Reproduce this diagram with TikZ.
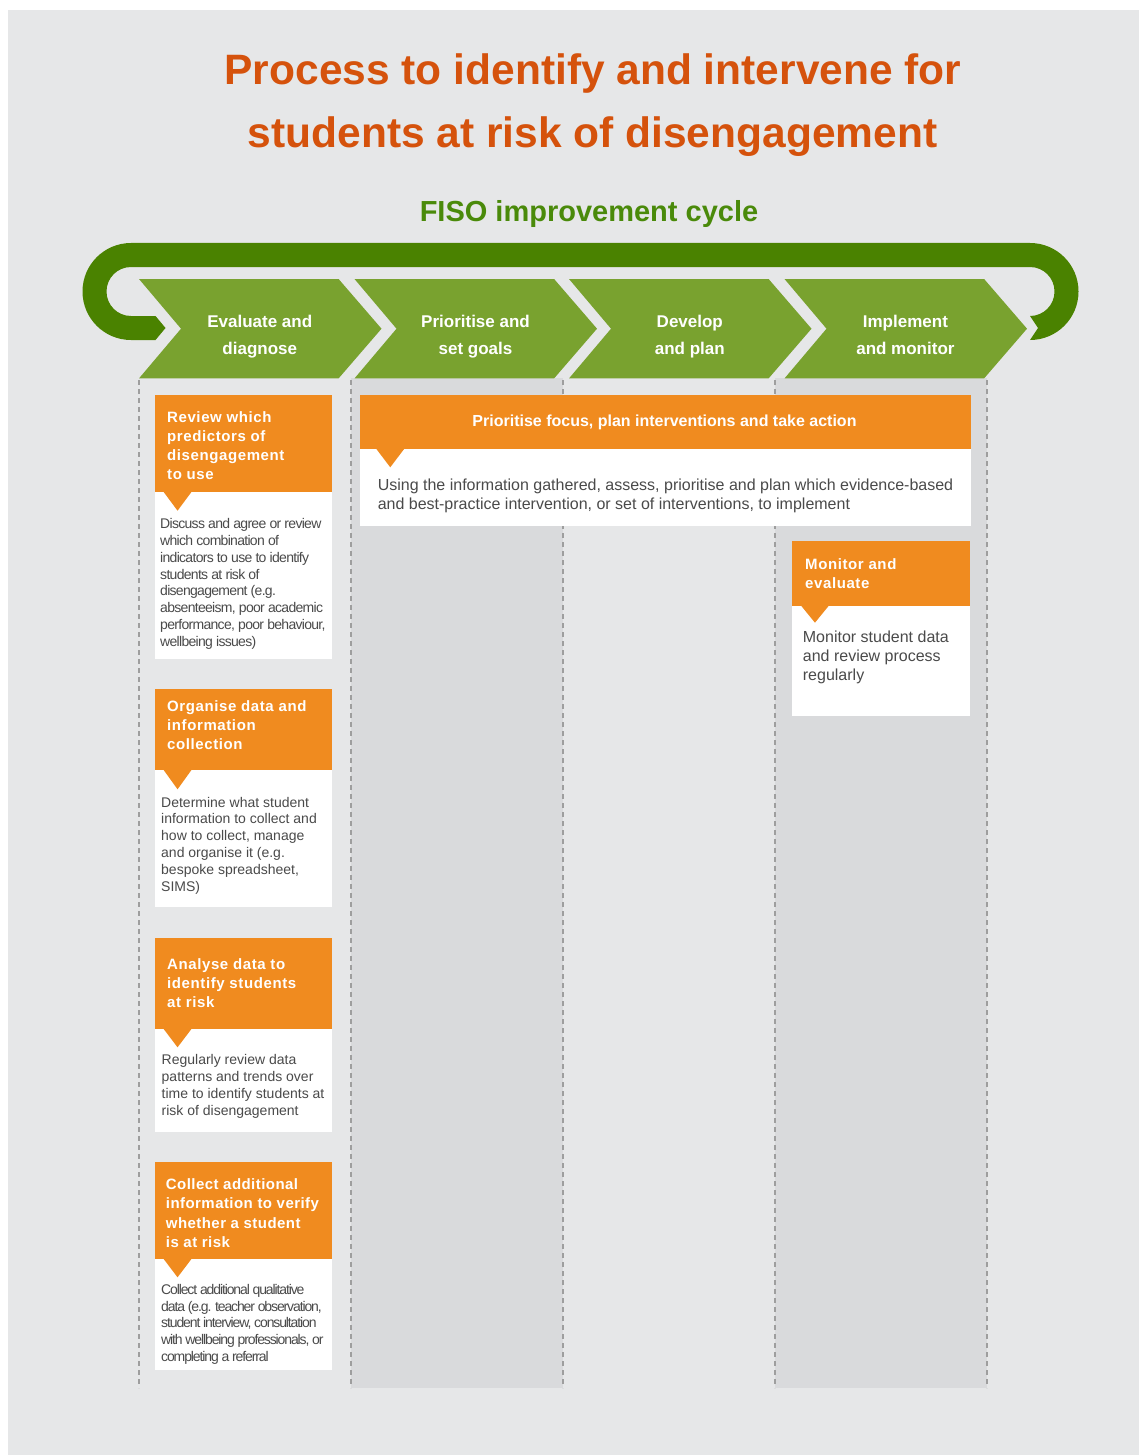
\documentclass[tikz,border=0pt]{standalone}
\usepackage{fontspec}
\setmainfont{Liberation Sans}
\newfontfamily\hdrfont[LetterSpace=4]{Liberation Sans}
\newfontfamily\hdrfontb[LetterSpace=3]{Liberation Sans}
\newfontfamily\condfont[LetterSpace=-5]{Liberation Sans}
\newfontfamily\condfontb[LetterSpace=-8]{Liberation Sans}
\definecolor{bggray}{HTML}{E6E7E8}
\definecolor{colshade}{HTML}{D9DADC}
\definecolor{titleorange}{HTML}{D5520C}
\definecolor{subgreen}{HTML}{4A8A0A}
\definecolor{banddark}{HTML}{4A8200}
\definecolor{chevgreen}{HTML}{79A22F}
\definecolor{boxorange}{HTML}{F08B1F}
\definecolor{bodytext}{HTML}{4A4A4A}
\definecolor{dashgray}{HTML}{9E9E9E}
\newcommand\calloutbox[7]{%
  \fill[white] (#1,-#4) rectangle (#2,-#5);
  \fill[boxorange] (#1,-#3) rectangle (#2,-#4);
  \fill[boxorange] (#6,-#4+0.5) -- (#6+28.5,-#4+0.5) -- (#6+14.25,-#7) -- cycle;
}
\begin{document}
\begin{tikzpicture}[x=1pt,y=1pt,
  titletext/.style={text=titleorange, font=\fontsize{42.5}{50}\selectfont\bfseries, inner sep=0, anchor=base},
  subtext/.style={text=subgreen, font=\fontsize{29}{34}\selectfont\bfseries, inner sep=0, anchor=base},
  chevtext/.style={text=white, font=\fontsize{17}{27.5}\selectfont\bfseries, align=center, inner sep=0, anchor=north},
  hdrtext/.style={text=white, font=\hdrfont\bfseries\fontsize{15}{19.2}\selectfont, align=left, inner sep=0, anchor=north west},
  hdrtextb/.style={hdrtext, font=\hdrfontb\bfseries\fontsize{15}{19.2}\selectfont},
  midhdr/.style={text=white, font=\fontsize{16}{19}\selectfont\bfseries, inner sep=0, anchor=base},
  bodytxt/.style={text=bodytext, font=\fontsize{14}{16.8}\selectfont, align=left, inner sep=0, anchor=north west},
  condtxt/.style={text=bodytext, font=\condfont\fontsize{14}{16.8}\selectfont, align=left, inner sep=0, anchor=north west},
  condtxtb/.style={condtxt, font=\condfontb\fontsize{14}{16.8}\selectfont},
  bigbody/.style={text=bodytext, font=\fontsize{16}{19}\selectfont, align=left, inner sep=0, anchor=north west},
  colline/.style={draw=dashgray, line width=1.1pt, dash pattern=on 5pt off 4pt}
]
\useasboundingbox (0,0) rectangle (1139,-1455);
\fill[white] (0,0) rectangle (1139,-1455);
\fill[bggray] (8,-10) rectangle (1139,-1455);

% titles
\node[titletext] (t1) at (593,-85) {Process to identify and intervene for};
\node[titletext] (t2) at (592.5,-148) {students at risk of disengagement};
\node[subtext] (sub) at (589,-222) {FISO improvement cycle};

% column shading and dashed lines
\fill[colshade] (351,-378.4) rectangle (563,-1388);
\fill[colshade] (775,-378.4) rectangle (987,-1388);
\foreach \cx in {139,351,563,775,987} {
  \draw[colline] (\cx,-380) -- (\cx,-1388);
}

% cycle band
\fill[banddark] (155.5,-340) -- (131,-340) arc[start angle=270, end angle=90, radius=48.5]
  -- (1030,-243) arc[start angle=90, end angle=-90, radius=48.5]
  -- (1038,-328) -- (1030,-316) arc[start angle=-90, end angle=90, radius=24.5]
  -- (131,-267) arc[start angle=90, end angle=270, radius=24.5]
  -- (155.5,-316) -- (165.5,-328) -- cycle;

% chevrons
\foreach \L in {139,354.5,569,784.5} {
  \fill[chevgreen] (\L,-279) -- (\L+199.6,-279) -- (\L+242.5,-328.7) -- (\L+199.6,-378.4)
    -- (\L,-378.4) -- (\L+42,-328.7) -- cycle;
}
\node[chevtext] (c1) at (259.8,-314.5) {Evaluate and\\diagnose};
\node[chevtext] (c2) at (475.5,-314.5) {Prioritise and\\set goals};
\node[chevtext] (c3) at (689.8,-314.5) {Develop\\and plan};
\node[chevtext] (c4) at (905.4,-314.5) {Implement\\and monitor};

% left column boxes
\calloutbox{155}{332.3}{395}{492}{659.3}{163.3}{510.7}
\node[hdrtext] (h1) at (167,-411) {Review which\\predictors of\\disengagement\\to use};
\node[condtxt] (b1) at (160,-518.3) {Discuss and agree or review\\which combination of\\indicators to use to identify\\students at risk of\\disengagement (e.g.\\absenteeism, poor academic\\performance, poor behaviour,\\wellbeing issues)};

\calloutbox{155}{332.3}{689}{770}{906.7}{163.3}{789.3}
\node[hdrtext] (h2) at (167,-700.3) {Organise data and\\information\\collection};
\node[bodytxt] (b2) at (161,-796.7) {Determine what student\\information to collect and\\how to collect, manage\\and organise it (e.g.\\bespoke spreadsheet,\\SIMS)};

\calloutbox{155}{332.3}{938.3}{1029}{1131.7}{163.3}{1047.3}
\node[hdrtext] (h3) at (167,-958.3) {Analyse data to\\identify students\\at risk};
\node[bodytxt] (b3) at (161.5,-1054.3) {Regularly review data\\patterns and trends over\\time to identify students at\\risk of disengagement};

\calloutbox{155}{332.3}{1161.7}{1259}{1370}{163.3}{1277.3}
\node[hdrtextb] (h4) at (165.7,-1178.6) {Collect additional\\information to verify\\whether a student\\is at risk};
\node[condtxtb] (b4) at (161,-1284) {Collect additional qualitative\\data (e.g. teacher observation,\\student interview, consultation\\with wellbeing professionals, or\\completing a referral};

% middle box
\calloutbox{360.4}{970.6}{395}{449}{526}{376}{467.3}
\node[midhdr] (h5) at (664.5,-426.7) {Prioritise focus, plan interventions and take action};
\node[bigbody] (b5) at (377.6,-478.5) {Using the information gathered, assess, prioritise and plan which evidence-based\\and best-practice intervention, or set of interventions, to implement};

% right box
\calloutbox{792.3}{970}{541}{605.7}{716}{800.7}{622.7}
\node[hdrtext] (h6) at (805,-558.6) {Monitor and\\evaluate};
\node[bigbody] (b6) at (802.7,-630.2) {Monitor student data\\and review process\\regularly};
\end{tikzpicture}
\end{document}
